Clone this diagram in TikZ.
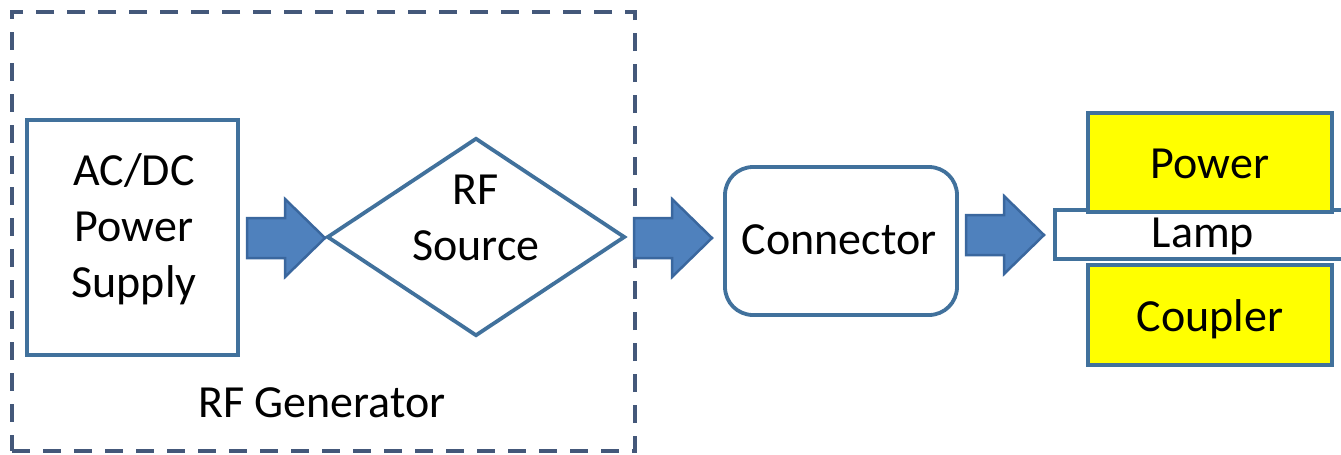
\documentclass[tikz,border=0pt]{standalone}
\usepackage{fontspec}
\setmainfont{Carlito}
\usetikzlibrary{shapes.geometric}
\definecolor{dashcol}{HTML}{44587A}
\definecolor{boxcol}{HTML}{41719C}
\definecolor{arrfill}{HTML}{4F81BD}
\definecolor{arrline}{HTML}{3A679E}
\definecolor{yel}{HTML}{FFFF00}
\tikzset{
  box/.style={draw=boxcol, line width=3.8pt, fill=white, inner sep=0pt},
  lbl/.style={font=\fontsize{46}{56}\selectfont, align=center, text=black, inner sep=0pt},
  blockarrow/.style={fill=arrfill, draw=arrline, line width=2.5pt, line join=miter},
  barrow/.pic={\path[blockarrow] (0,-20) -- (38,-20) -- (38,-39) -- (78,0) -- (38,39) -- (38,20) -- (0,20) -- cycle;}
}
\begin{document}
\begin{tikzpicture}[x=1pt, y=-1pt]
\useasboundingbox (0,0) rectangle (1341,455);
% RF generator dashed frame
\node[draw=dashcol, line width=4pt, dash pattern=on 18pt off 13pt, minimum width=623pt, minimum height=439pt, inner sep=0pt] (gen) at (323.5,231.5) {};
\node[lbl] (genlbl) at (322,403) {RF Generator};
% AC/DC power supply
\node[box, minimum width=211pt, minimum height=235pt] (psu) at (132.5,237.5) {};
\node[lbl] (psulbl) at (134,229) {AC/DC\\Power\\Supply};
% RF source diamond
\node[diamond, draw=boxcol, line width=3.8pt, fill=white, minimum width=298pt, minimum height=198pt, inner sep=0pt] (src) at (476,237) {};
\node[lbl] (srclbl) at (476,218) {RF\\Source};
% connector
\node[box, rounded corners=28pt, minimum width=232pt, minimum height=148pt] (con) at (841,241) {};
\node[lbl] (conlbl) at (839,240) {Connector};
% lamp and coupler
\node[box, minimum width=300pt, minimum height=49pt] (lamp) at (1205,234.5) {};
\node[box, fill=yel, minimum width=244pt, minimum height=99pt] (pow) at (1210,162.5) {};
\node[box, fill=yel, minimum width=244pt, minimum height=100pt] (cou) at (1210,315) {};
\node[lbl] (lamplbl) at (1203,236) {Lamp};
\node[lbl] (powlbl) at (1210,164) {Power};
\node[lbl] (coulbl) at (1210,319) {Coupler};
% block arrows
\pic at (247,238) {barrow};
\pic at (634,238) {barrow};
\pic at (966,235) {barrow};
\end{tikzpicture}
\end{document}
